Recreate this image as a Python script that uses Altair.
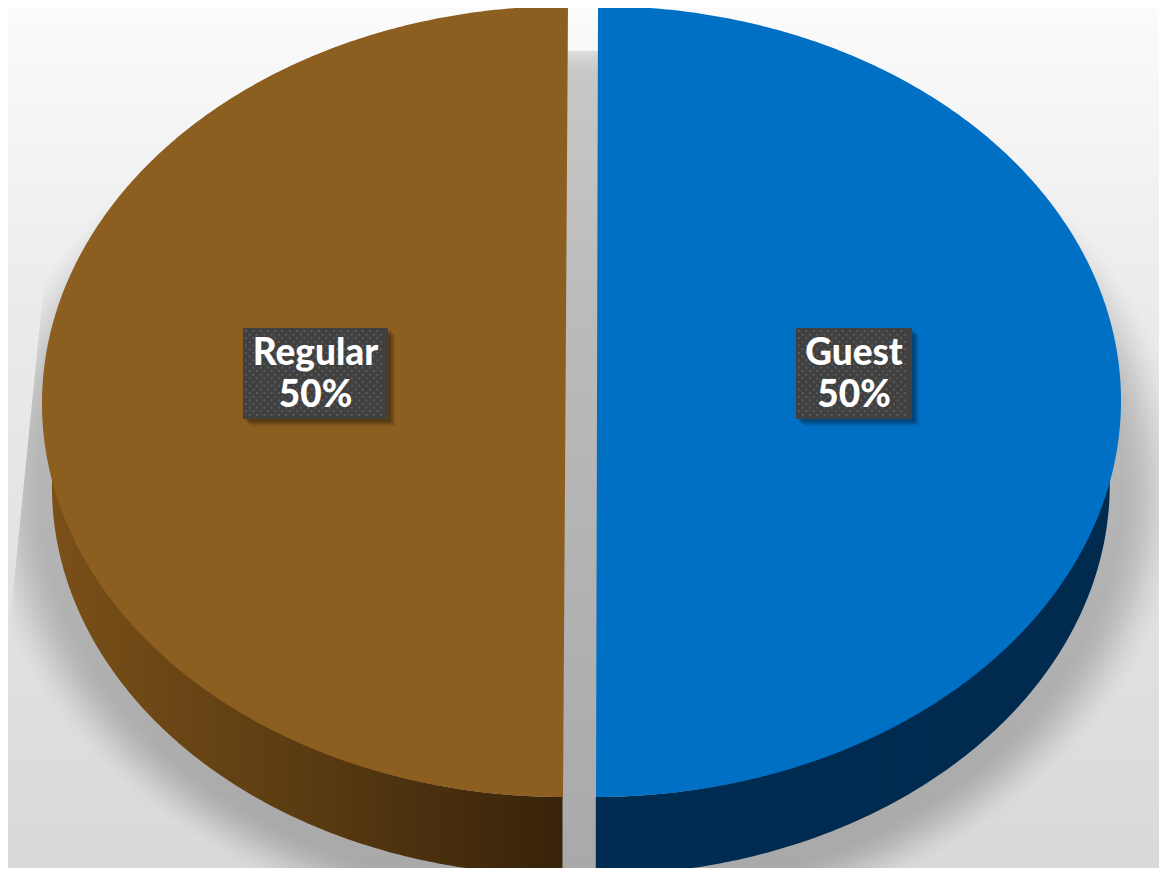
import numpy as np
import pandas as pd
import altair as alt

# ---- chart content ----
categories = ["Regular", "Guest"]
shares = [50, 50]
face_colors = ["#8c5e20", "#0070c5"]

# ---- layout, in reference-picture pixels ----
PAGE = 8
W, H = 1167, 876
RIGHT, BOTTOM = W - PAGE, H - PAGE
SX = alt.Scale(domain=[PAGE, RIGHT], nice=False, zero=False)
SY = alt.Scale(domain=[BOTTOM, PAGE], nice=False, zero=False)
X = alt.X("x:Q", scale=SX, axis=None)
X2 = alt.X2("x2:Q")
Y = alt.Y("y:Q", scale=SY, axis=None)
Y2 = alt.Y2("y2:Q")

RY, CY = 395.5, 401.5
RX = [523.5, 524.0]
CX = [565.5, 597.0]
SHEAR = [-2.5 / 395, -1.0 / 395]
SIDE = [-1, 1]
# base ellipse of the extruded pie (smaller: perspective)
RX_B, RY_B = 513.0, 390.0
CY_B = 875.0 - RY_B
DEPTH = 78.0

# shadow: a blurred ellipse, cut by a trapezoid
SH_CX, SH_CY, SH_RX, SH_RY = 581.0, 485.0, 585.0, 445.0
SH_TOP = 50.0
SH_RINGS = 24
SH_ALPHA = 0.008
SH_OUTER, SH_INNER = 1.04, 0.92

LABEL_BOX = {"Regular": (243, 388), "Guest": (796, 912)}
BOX_TOP, BOX_BOTTOM = 328, 419
LINE1_Y, LINE2_Y = 365, 407


def grad(stops, **kw):
    return alt.Gradient(
        gradient="linear",
        stops=[alt.GradientStop(color=c, offset=o) for o, c in stops],
        **kw,
    )


layers = []

# page background
layers.append(
    alt.Chart(pd.DataFrame({"a": [0]}))
    .mark_rect(color=grad([(0, "#fbfbfb"), (0.35, "#ebebeb"), (1, "#d9d9d9")], x1=0, x2=0, y1=0, y2=1))
    .encode(x=alt.value(0), x2=alt.value(RIGHT - PAGE), y=alt.value(0), y2=alt.value(BOTTOM - PAGE))
)

# soft shadow behind the pie, as stacked translucent ellipses
for k in range(SH_RINGS):
    u = (k + 0.5) / SH_RINGS
    s = SH_OUTER - (SH_OUTER - SH_INNER) * (0.5 - np.sin(np.arcsin(1 - 2 * u) / 3))
    t = np.linspace(0, np.pi, 241)
    ys = SH_CY - s * SH_RY * np.cos(t)
    keep = ys >= SH_TOP
    ys, t = ys[keep], t[keep]
    half = s * SH_RX * np.sin(t)
    ring = pd.DataFrame({
        "y": ys,
        "x": np.maximum(SH_CX - half, 67 - 0.1 * (ys - SH_TOP)),
        "x2": np.minimum(SH_CX + half, 1127 + 0.1 * (ys - SH_TOP)),
    })
    layers.append(
        alt.Chart(ring)
        .mark_area(orient="horizontal", clip=True, color="#000000", opacity=SH_ALPHA)
        .encode(y=Y, x=X, x2=X2)
    )

wall_fills = [
    grad([(0, "#7a5018"), (0.5, "#5a3b12"), (1, "#37230a")], x1=0, x2=1, y1=0, y2=0),
    grad([(0, "#002c52"), (1, "#002a4e")], x1=0, x2=1, y1=0, y2=0),
]

for i, (name, share) in enumerate(zip(categories, shares)):
    sweep = share / sum(shares) * 2 * np.pi

    # side wall
    t = np.linspace(sweep / 2, sweep, 181)
    yb = CY_B - RY_B * np.cos(t)
    wall = pd.DataFrame({
        "x": CX[i] + SIDE[i] * RX_B * np.sin(t) + SHEAR[i] * (yb - CY),
        "y": yb - DEPTH,
        "y2": yb,
    })
    layers.append(alt.Chart(wall).mark_area(color=wall_fills[i], clip=True).encode(x=X, y=Y, y2=Y2))

    # top face
    t = np.linspace(0, sweep, 361)
    yf = CY - RY * np.cos(t)
    face = pd.DataFrame({
        "y": yf,
        "x": CX[i] + SHEAR[i] * (yf - CY),
        "x2": CX[i] + SIDE[i] * RX[i] * np.sin(t) + SHEAR[i] * (yf - CY),
    })
    layers.append(alt.Chart(face).mark_area(orient="horizontal", color=face_colors[i], clip=True).encode(y=Y, x=X, x2=X2))

# data labels
for name, share in zip(categories, shares):
    x0, x1 = LABEL_BOX[name]
    for off, op in [(7, 0.10), (5, 0.14), (3, 0.18)]:
        layers.append(
            alt.Chart(pd.DataFrame({"x": [x0 + off], "x2": [x1 + off], "y": [BOX_TOP + off], "y2": [BOX_BOTTOM + off]}))
            .mark_rect(color="#000000", opacity=op)
            .encode(x=X, x2=X2, y=Y, y2=Y2)
        )
    layers.append(
        alt.Chart(pd.DataFrame({"x": [x0], "x2": [x1], "y": [BOX_TOP], "y2": [BOX_BOTTOM]}))
        .mark_rect(color="#404040")
        .encode(x=X, x2=X2, y=Y, y2=Y2)
    )
    dots = [
        {"x": px + (3.65 if r % 2 else 0), "y": BOX_TOP + 3 + r * 3.65}
        for r in range(int((BOX_BOTTOM - BOX_TOP - 4) / 3.65) + 1)
        for px in np.arange(x0 + 3, x1 - 4, 7.3)
    ]
    layers.append(
        alt.Chart(pd.DataFrame(dots))
        .mark_square(color="#5b5b5b", size=4, opacity=1)
        .encode(x=X, y=Y)
    )
    cx_label = (x0 + x1) / 2
    labels = pd.DataFrame({"x": [cx_label, cx_label], "y": [LINE1_Y, LINE2_Y], "t": [name, f"{share}%"]})
    layers.append(
        alt.Chart(labels)
        .mark_text(font="Lato", fontWeight=900, fontSize=37, color="#ffffff", align="center", baseline="alphabetic")
        .encode(x=X, y=Y, text="t:N")
    )

chart = (
    alt.layer(*layers)
    .properties(width=RIGHT - PAGE, height=BOTTOM - PAGE, padding=0, autosize=alt.AutoSizeParams(type="none"))
    .configure_view(stroke=None)
)

chart.save("out.html", embed_options={"renderer": "svg", "actions": False})
